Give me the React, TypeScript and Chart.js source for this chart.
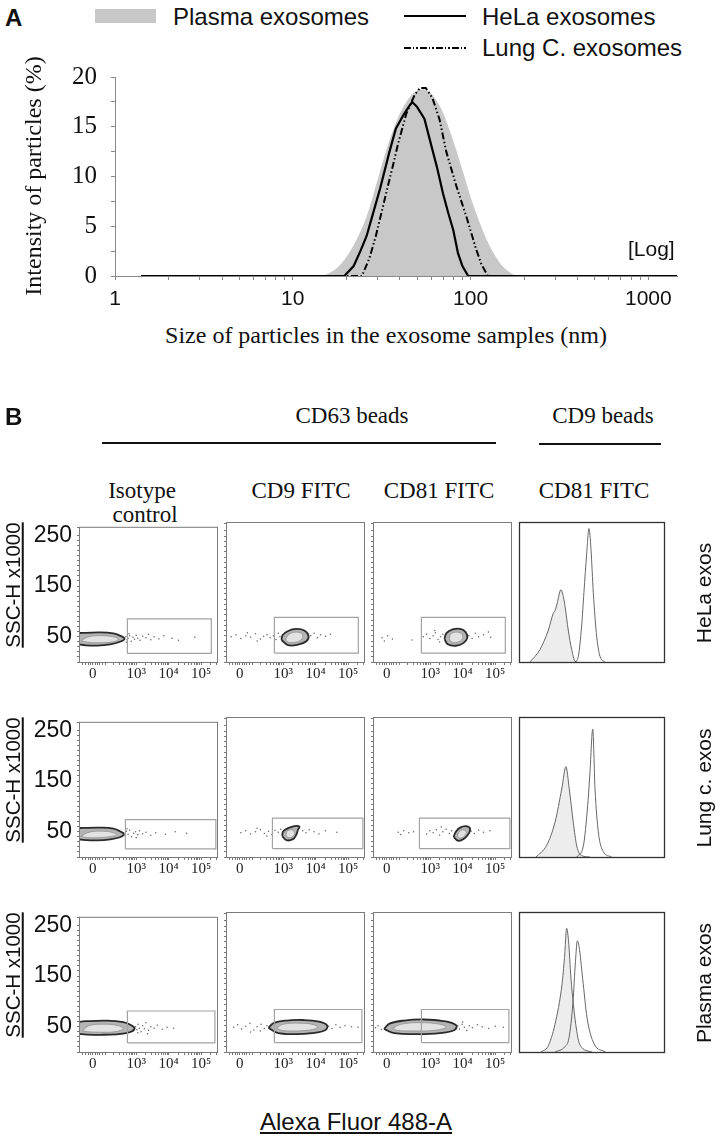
import React, { useEffect, useRef } from 'react';
import { Chart, registerables } from 'chart.js';

Chart.register(...registerables);

const SANS = "'Liberation Sans', Arial, sans-serif";
const SERIF = "'Liberation Serif', 'Times New Roman', serif";

// ---------------- Panel A : size distribution (log x) ----------------
const sizeMajorTicks = [1, 10, 100, 1000];
const sizeMinorFactors = [2, 3, 4, 5, 6, 7, 8, 9];
const intensityLabelTicks = [0, 5, 10, 15, 20];

const plasmaSize = [15, 17, 19, 22, 26, 30, 35, 40, 45, 50, 55, 60, 68, 78, 90, 100, 115, 130, 150, 170, 180];
const plasmaIntensity = [0, 0.5, 1.3, 3.0, 5.8, 9.5, 13.5, 16.2, 17.8, 18.6, 18.7, 18.3, 16.8, 14.0, 10.5, 7.8, 4.8, 2.7, 1.0, 0.2, 0];

const helaSize = [1.4, 19.5, 22, 24, 26, 28.5, 31, 35, 38, 42, 44.5, 47, 50, 55, 61, 65, 70, 75, 80, 85, 90, 97, 1450];
const helaIntensity = [0, 0, 1.0, 2.5, 4.0, 6.5, 8.8, 12.5, 14.8, 16.2, 16.9, 17.5, 17.0, 15.8, 12.7, 10.8, 8.3, 6.3, 4.6, 2.3, 1.0, 0, 0];

const lungSize = [1.4, 24.5, 27, 29.3, 32, 34, 36.5, 39, 43.5, 48.5, 52, 56, 61, 67, 73, 83, 95, 107, 115, 125, 1450];
const lungIntensity = [0, 0, 1.8, 4.0, 6.8, 8.8, 11.0, 13.2, 16.3, 18.2, 18.9, 18.9, 17.9, 15.7, 12.5, 9.1, 5.9, 2.8, 1.2, 0, 0];

// ---------------- Panel B : flow cytometry ----------------
const flowXMin = 1.273;
const flowXMax = 5.485;
const flowXMajor = [1.667, 3, 4, 5];
const flowXLabels = ['0', '10³', '10⁴', '10⁵'];
const flowXMinor = [1.36, 1.45, 1.53, 1.6, 1.74, 1.8, 1.87, 1.95, 2.05, 2.3, 2.48, 2.6, 2.7, 2.78, 2.85, 2.9, 2.95,
  3.3, 3.48, 3.6, 3.7, 3.78, 3.85, 3.9, 3.95, 4.3, 4.48, 4.6, 4.7, 4.78, 4.85, 4.9, 4.95, 5.3, 5.48];
const flowYMax = 265;
const flowYLabels = [50, 150, 250];

const gateXRow1 = [2.73, 5.31];
const gateYRow1 = [17, 85];
const gateXRow2 = [2.67, 5.45];
const gateYRow2 = [16, 74];
const gateXRow3 = [2.73, 5.42];
const gateYRow3 = [18, 81];

// HeLa exos
const r1c1Outline = [[1.2, 35], [1.2, 55], [1.45, 57.5], [1.9, 58.5], [2.3, 56.5], [2.5, 52], [2.64, 46], [2.5, 40], [2.2, 35], [1.8, 32.5], [1.45, 33], [1.2, 35]];
const r1c1Core = [[1.3, 42], [1.55, 50], [2.0, 52], [2.35, 49], [2.45, 45], [2.3, 40], [1.9, 38], [1.5, 39], [1.3, 42]];
const r1c1Dots = [[2.68, 50], [2.72, 44], [2.75, 47], [2.8, 52], [2.85, 41], [2.9, 49], [2.95, 45], [3.0, 53], [3.05, 47], [3.12, 43], [3.2, 51], [3.3, 48], [3.38, 55], [3.45, 44], [3.55, 50], [3.7, 46], [3.85, 52], [4.1, 47], [4.3, 43], [4.8, 49], [2.7, 39], [2.78, 56]];

const r1c2Outline = [[2.95, 42], [2.98, 51], [3.15, 59], [3.4, 63], [3.65, 60], [3.78, 50], [3.72, 40], [3.45, 33], [3.15, 32], [2.95, 42]];
const r1c2Core = [[3.08, 44], [3.18, 53], [3.42, 57], [3.6, 52], [3.55, 42], [3.3, 37], [3.12, 39], [3.08, 44]];
const r1c2Dots = [[1.4, 48], [1.55, 52], [1.7, 45], [1.85, 50], [2.0, 47], [2.15, 54], [2.3, 44], [2.4, 49], [2.5, 52], [2.6, 46], [2.7, 50], [2.78, 43], [2.85, 55], [2.9, 48], [3.85, 50], [3.95, 55], [4.05, 46], [4.15, 52], [4.3, 49], [4.45, 53], [2.2, 40], [1.9, 56]];

const r1c3Outline = [[3.44, 44], [3.5, 55], [3.69, 62], [3.92, 63], [4.09, 57], [4.14, 46], [4.02, 36], [3.79, 31], [3.54, 34], [3.44, 44]];
const r1c3Core = [[3.59, 45], [3.64, 54], [3.84, 57], [3.99, 52], [3.97, 42], [3.79, 37], [3.64, 39], [3.59, 45]];
const r1c3Dots = [[1.52, 46], [1.59, 40], [1.69, 50], [1.84, 44], [2.44, 42], [2.79, 48], [2.89, 53], [2.99, 45], [3.09, 50], [3.16, 56], [3.24, 43], [3.32, 48], [3.39, 53], [4.19, 50], [4.29, 45], [4.39, 55], [4.49, 48], [4.64, 52], [4.79, 57], [4.86, 47], [3.29, 38], [3.14, 60]];

// Lung c. exos
const r2c1Outline = [[1.2, 35], [1.2, 55], [1.5, 57.5], [1.9, 58], [2.3, 56], [2.5, 51], [2.62, 45], [2.5, 39], [2.2, 35], [1.8, 33], [1.45, 33.5], [1.2, 35]];
const r2c1Core = [[1.3, 41], [1.55, 49], [2.0, 51], [2.3, 48], [2.4, 44], [2.2, 40], [1.8, 38], [1.45, 38.5], [1.3, 41]];
const r2c1Dots = [[2.62, 48], [2.66, 42], [2.7, 51], [2.75, 45], [2.8, 53], [2.86, 40], [2.92, 47], [2.98, 50], [3.05, 44], [3.1, 52], [3.2, 46], [3.3, 49], [3.45, 43], [3.6, 48], [3.9, 45], [4.2, 50], [4.55, 47], [2.72, 56], [3.0, 38]];

const r2c2Outline = [[2.97, 40], [3.0, 49], [3.15, 55], [3.35, 59], [3.5, 58], [3.45, 51], [3.4, 42], [3.3, 34], [3.1, 32], [2.97, 40]];
const r2c2Core = [[3.08, 42], [3.12, 49], [3.25, 52], [3.35, 47], [3.3, 39], [3.15, 37], [3.08, 42]];
const r2c2Dots = [[1.7, 46], [1.85, 50], [2.0, 44], [2.15, 48], [2.3, 52], [2.42, 45], [2.55, 49], [2.65, 43], [2.75, 51], [2.85, 47], [2.92, 53], [3.6, 50], [3.7, 46], [3.8, 52], [3.95, 48], [4.1, 44], [4.3, 50], [4.65, 47], [2.5, 40], [2.2, 55]];

const r2c3Outline = [[3.72, 38], [3.79, 48], [3.92, 56], [4.09, 59], [4.22, 55], [4.19, 45], [4.04, 35], [3.86, 31], [3.72, 38]];
const r2c3Core = [[3.84, 40], [3.89, 48], [4.02, 52], [4.11, 47], [4.04, 39], [3.91, 36], [3.84, 40]];
const r2c3Dots = [[2.02, 47], [2.09, 43], [2.19, 50], [2.34, 46], [2.49, 48], [2.89, 44], [2.99, 50], [3.09, 46], [3.19, 52], [3.29, 42], [3.39, 48], [3.49, 53], [3.59, 45], [3.66, 50], [4.26, 49], [4.36, 45], [4.49, 51], [4.64, 47], [4.84, 50], [3.34, 57]];

// Plasma exos
const r3c1Outline = [[1.2, 36], [1.2, 57], [1.6, 61], [2.1, 62], [2.6, 59], [2.85, 53], [2.95, 46], [2.8, 39], [2.4, 35], [1.9, 34], [1.5, 34.5], [1.2, 36]];
const r3c1Core = [[1.35, 42], [1.55, 52], [2.0, 55], [2.45, 52], [2.6, 46], [2.35, 40], [1.9, 39], [1.5, 40], [1.35, 42]];
const r3c1Dots = [[2.98, 50], [3.02, 44], [3.06, 55], [3.1, 47], [3.15, 40], [3.2, 52], [3.25, 46], [3.3, 58], [3.38, 43], [3.45, 50], [3.55, 47], [3.65, 53], [3.8, 45], [3.95, 49], [4.15, 47], [3.05, 38], [3.35, 36]];

const r3c2Outline = [[2.55, 46], [2.7, 55], [3.1, 60], [3.6, 61], [4.1, 58], [4.35, 51], [4.3, 42], [3.9, 36], [3.3, 34], [2.8, 37], [2.55, 46]];
const r3c2Core = [[2.8, 46], [3.0, 53], [3.5, 55], [3.95, 52], [4.05, 46], [3.7, 41], [3.2, 40], [2.9, 42], [2.8, 46]];
const r3c2Dots = [[1.48, 47], [1.6, 52], [1.72, 44], [1.85, 49], [1.98, 55], [2.1, 42], [2.2, 48], [2.32, 53], [2.42, 45], [2.5, 50], [4.4, 49], [4.5, 45], [4.62, 52], [4.75, 47], [4.9, 50], [5.1, 48], [5.3, 47], [2.0, 38], [2.3, 40]];

const r3c3Outline = [[1.58, 44], [1.75, 54], [2.2, 60], [2.8, 62], [3.4, 59], [3.8, 51], [3.75, 42], [3.3, 36], [2.6, 34], [1.9, 36], [1.58, 44]];
const r3c3Core = [[1.85, 45], [2.1, 53], [2.7, 56], [3.3, 53], [3.5, 47], [3.1, 41], [2.5, 40], [2.0, 41], [1.85, 45]];
const r3c3Dots = [[1.32, 46], [1.4, 50], [1.5, 43], [3.85, 50], [3.9, 44], [3.98, 53], [4.05, 47], [4.12, 41], [4.2, 50], [4.3, 46], [4.45, 52], [4.6, 48], [4.8, 45], [5.0, 49], [5.25, 47], [4.0, 57]];

// CD9 beads / CD81 FITC histograms (x: % of axis, y: % of max)
const hist1ControlX = [6.9, 13.9, 19.7, 23.1, 24.3, 25.5, 27.8, 28.5, 30.1, 31.3, 33.5, 35.9, 38.2, 40];
const hist1ControlY = [0, 9, 23, 35, 37, 41, 51, 52, 47, 40, 23, 9, 0.5, 0];
const hist1StainedX = [38.2, 40.5, 42.8, 44.4, 46.3, 47.9, 49.3, 50.9, 53.3, 55.6, 59];
const hist1StainedY = [0, 4, 26, 50, 78, 96, 81, 50, 18, 4, 0];

const hist2ControlX = [11.1, 18.5, 24.3, 29, 31.9, 34.2, 37, 39.4, 42.8, 48.6];
const hist2ControlY = [0, 8.4, 25, 49, 65, 49, 25, 8, 1, 0];
const hist2StainedX = [39.4, 44, 47, 48.6, 50.5, 52.1, 54.4, 57.8, 63.7];
const hist2StainedY = [0, 8, 37, 61, 92, 49, 18, 4, 0];

const hist3ControlX = [14.6, 19.4, 24.3, 29.2, 30.9, 32.4, 33.7, 35.4, 38.7, 41.7, 50];
const hist3ControlY = [0, 4, 20, 49, 68, 89, 80, 53, 20, 5, 0];
const hist3StainedX = [24.3, 31.3, 34, 36.8, 38.5, 39.8, 41, 43.5, 46.5, 51.4, 59.4];
const hist3StainedY = [0, 4, 10, 36, 65, 80, 76, 53, 25, 6, 0];

// ---------------- layout ----------------
const rowTops = [523, 718, 913];
const colLefts = [80, 227, 374];
const PANEL = 139;
const histLeft = 520;
const histWidth = 144;

const framePlugin: any = {
  id: 'frame',
  afterDraw(chart: any, _args: any, opts: any) {
    if (!opts || !opts.color) return;
    const { left, top, right, bottom } = chart.chartArea;
    const ctx = chart.ctx;
    ctx.save();
    ctx.strokeStyle = opts.color;
    ctx.lineWidth = opts.width || 1;
    ctx.strokeRect(left - 0.5, top - 0.5, right - left + 1, bottom - top + 1);
    ctx.restore();
  },
};

const toPts = (a: number[][]) => a.map(([x, y]) => ({ x, y }));
const zipPts = (xs: number[], ys: number[]) => xs.map((x, i) => ({ x, y: ys[i] }));

function panelAConfig(): any {
  const allTicks: number[] = [];
  sizeMajorTicks.forEach((d) => {
    allTicks.push(d);
    if (d < 1000) sizeMinorFactors.forEach((f) => allTicks.push(d * f));
  });
  return {
    type: 'scatter',
    data: {
      datasets: [
        { label: 'HeLa exosomes', data: zipPts(helaSize, helaIntensity), showLine: true, borderColor: '#000', borderWidth: 2.2, pointRadius: 0, fill: false, tension: 0 },
        { label: 'Lung C. exosomes', data: zipPts(lungSize, lungIntensity), showLine: true, borderColor: '#000', borderWidth: 2, borderDash: [7, 2.5, 1.5, 2.5, 1.5, 2.5], pointRadius: 0, fill: false, tension: 0 },
        { label: 'Plasma exosomes', data: zipPts(plasmaSize, plasmaIntensity), showLine: true, borderColor: '#c8c8c8', borderWidth: 1, backgroundColor: '#c8c8c8', fill: 'origin', tension: 0.3, pointRadius: 0 },
      ],
    },
    options: {
      responsive: false,
      animation: false,
      events: [],
      layout: { padding: { top: 16, right: 43, left: 0, bottom: 0 } },
      plugins: { legend: { display: false }, tooltip: { enabled: false } },
      scales: {
        x: {
          type: 'logarithmic', min: 1, max: 1450,
          afterFit: (s: any) => { s.height = 40; },
          afterBuildTicks: (s: any) => { s.ticks = allTicks.map((v) => ({ value: v })); },
          ticks: { autoSkip: false, maxRotation: 0, padding: 7, color: '#111', font: { family: SANS, size: 21 }, callback: (v: any) => (sizeMajorTicks.includes(v) ? String(v) : '') },
          grid: { drawOnChartArea: false, tickLength: 4, color: '#888' },
          border: { color: '#888', width: 1 },
        },
        y: {
          min: 0, max: 20,
          afterFit: (s: any) => { s.width = 115; },
          ticks: { stepSize: 2.5, autoSkip: false, padding: 14, color: '#111', font: { family: SERIF, size: 25 }, callback: (v: any) => (intensityLabelTicks.includes(v) ? String(v) : '') },
          grid: { drawOnChartArea: false, tickLength: 4, color: '#888' },
          border: { color: '#888', width: 1 },
        },
      },
    },
  };
}

function flowConfig(outline: number[][], core: number[][], dots: number[][], gx: number[], gy: number[], showY: boolean): any {
  const gate = [
    { x: gx[0], y: gy[0] }, { x: gx[1], y: gy[0] }, { x: gx[1], y: gy[1] }, { x: gx[0], y: gy[1] }, { x: gx[0], y: gy[0] },
  ];
  const allTicks = [...flowXMajor, ...flowXMinor].sort((a, b) => a - b);
  return {
    type: 'scatter',
    data: {
      datasets: [
        { data: gate, showLine: true, borderColor: '#a3a3a3', borderWidth: 1.2, pointRadius: 0, fill: false, tension: 0 },
        { data: toPts(core), showLine: true, borderColor: '#9a9a9a', borderWidth: 1, backgroundColor: '#e2e2e2', fill: 'shape', tension: 0.4, pointRadius: 0 },
        { data: toPts(outline), showLine: true, borderColor: '#2a2a2a', borderWidth: 1.8, backgroundColor: '#b4b4b4', fill: 'shape', tension: 0.4, pointRadius: 0 },
        { data: toPts(dots), showLine: false, pointRadius: 0.75, backgroundColor: '#666', pointBackgroundColor: '#666', pointBorderWidth: 0, borderWidth: 0 },
      ],
    },
    plugins: [framePlugin],
    options: {
      responsive: false,
      animation: false,
      events: [],
      layout: { padding: { top: 14, right: 2, left: 0, bottom: 0 } },
      plugins: { legend: { display: false }, tooltip: { enabled: false }, frame: { color: '#7a7a7a', width: 1 } },
      scales: {
        x: {
          type: 'linear', min: flowXMin, max: flowXMax,
          afterFit: (s: any) => { s.height = 28; },
          afterBuildTicks: (s: any) => { s.ticks = allTicks.map((v) => ({ value: v })); },
          ticks: {
            autoSkip: false, maxRotation: 0, padding: 0, color: '#222', font: { family: SERIF, size: 15 },
            callback: (v: any) => { const i = flowXMajor.indexOf(v); return i >= 0 ? flowXLabels[i] : ''; },
          },
          grid: { drawOnChartArea: false, tickLength: 3, color: '#777' },
          border: { display: false },
        },
        y: {
          min: 0, max: flowYMax,
          afterFit: (s: any) => { s.width = showY ? 80 : 8; },
          ticks: {
            display: showY, stepSize: 10, autoSkip: false, padding: 5, color: '#111', font: { family: SANS, size: 23 },
            callback: (v: any) => (flowYLabels.includes(v) ? String(v) : ''),
          },
          grid: { drawOnChartArea: false, tickLength: 3, color: '#777' },
          border: { display: false },
        },
      },
    },
  };
}

function histConfig(cx: number[], cy: number[], sx: number[], sy: number[]): any {
  return {
    type: 'scatter',
    data: {
      datasets: [
        { data: zipPts(sx, sy), showLine: true, borderColor: '#666', borderWidth: 1, fill: false, cubicInterpolationMode: 'monotone', pointRadius: 0 },
        { data: zipPts(cx, cy), showLine: true, borderColor: '#666', borderWidth: 1, backgroundColor: '#ededed', fill: 'origin', cubicInterpolationMode: 'monotone', pointRadius: 0 },
      ],
    },
    plugins: [framePlugin],
    options: {
      responsive: false,
      animation: false,
      events: [],
      layout: { padding: 2 },
      plugins: { legend: { display: false }, tooltip: { enabled: false }, frame: { color: '#333', width: 1.3 } },
      scales: {
        x: { display: false, type: 'linear', min: 0, max: 100 },
        y: { display: false, min: 0, max: 100 },
      },
    },
  };
}

function ChartBox({ left, top, width, height, make }: { left: number; top: number; width: number; height: number; make: () => any }) {
  const ref = useRef<HTMLCanvasElement>(null);
  useEffect(() => {
    const chart = new Chart(ref.current as HTMLCanvasElement, make());
    return () => chart.destroy();
  }, []);
  return <canvas ref={ref} width={width} height={height} style={{ position: 'absolute', left, top, width, height }} />;
}

function Label({ x, y, children, size, family = SANS, weight = 400, anchor = 'middle', rotate = false, underline = false }: any) {
  const tx = anchor === 'middle' ? '-50%' : anchor === 'end' ? '-100%' : '0';
  return (
    <div
      style={{
        position: 'absolute', left: x, top: y, whiteSpace: 'nowrap', lineHeight: 1,
        fontSize: size, fontFamily: family, fontWeight: weight, color: '#111',
        textDecoration: underline ? 'underline' : 'none',
        transform: `translate(${tx}, -50%)${rotate ? ' rotate(-90deg)' : ''}`,
        transformOrigin: rotate ? 'center center' : undefined,
      }}
    >
      {children}
    </div>
  );
}

const flowPanels = [
  { row: 0, col: 0, outline: r1c1Outline, core: r1c1Core, dots: r1c1Dots },
  { row: 0, col: 1, outline: r1c2Outline, core: r1c2Core, dots: r1c2Dots },
  { row: 0, col: 2, outline: r1c3Outline, core: r1c3Core, dots: r1c3Dots },
  { row: 1, col: 0, outline: r2c1Outline, core: r2c1Core, dots: r2c1Dots },
  { row: 1, col: 1, outline: r2c2Outline, core: r2c2Core, dots: r2c2Dots },
  { row: 1, col: 2, outline: r2c3Outline, core: r2c3Core, dots: r2c3Dots },
  { row: 2, col: 0, outline: r3c1Outline, core: r3c1Core, dots: r3c1Dots },
  { row: 2, col: 1, outline: r3c2Outline, core: r3c2Core, dots: r3c2Dots },
  { row: 2, col: 2, outline: r3c3Outline, core: r3c3Core, dots: r3c3Dots },
];
const gateXs = [gateXRow1, gateXRow2, gateXRow3];
const gateYs = [gateYRow1, gateYRow2, gateYRow3];
const histPanels = [
  { cx: hist1ControlX, cy: hist1ControlY, sx: hist1StainedX, sy: hist1StainedY },
  { cx: hist2ControlX, cy: hist2ControlY, sx: hist2StainedX, sy: hist2StainedY },
  { cx: hist3ControlX, cy: hist3ControlY, sx: hist3StainedX, sy: hist3StainedY },
];
const rowNames = ['HeLa exos', 'Lung c. exos', 'Plasma exos'];

export default function App() {
  return (
    <div style={{ position: 'relative', width: 720, height: 1138, background: '#fff', overflow: 'hidden' }}>
      <style>{`body{margin:0;background:#fff}`}</style>

      {/* Panel A */}
      <Label x={5} y={18} size={24} weight={700} anchor="start">A</Label>
      <div style={{ position: 'absolute', left: 95, top: 9, width: 61, height: 14, background: '#c8c8c8' }} />
      <Label x={173} y={17} size={24} anchor="start">Plasma exosomes</Label>
      <div style={{ position: 'absolute', left: 404, top: 15, width: 62, height: 2, background: '#000' }} />
      <Label x={482} y={17} size={24} anchor="start">HeLa exosomes</Label>
      <div
        style={{
          position: 'absolute', left: 404, top: 47, width: 62, height: 2,
          background: 'repeating-linear-gradient(to right, #000 0 7px, transparent 7px 9px, #000 9px 10.5px, transparent 10.5px 12.5px, #000 12.5px 14px, transparent 14px 16px)',
        }}
      />
      <Label x={482} y={48} size={24} anchor="start">Lung C. exosomes</Label>
      <ChartBox left={0} top={48} width={720} height={268} make={panelAConfig} />
      <Label x={33} y={176} size={24} family={SERIF} rotate>Intensity of particles (%)</Label>
      <Label x={628} y={248} size={21} anchor="start">[Log]</Label>
      <Label x={386} y={335} size={24} family={SERIF}>Size of particles in the exosome samples (nm)</Label>

      {/* Panel B headers */}
      <Label x={5} y={417} size={24} weight={700} anchor="start">B</Label>
      <Label x={352} y={415} size={23} family={SERIF}>CD63 beads</Label>
      <div style={{ position: 'absolute', left: 102, top: 442, width: 394, height: 2, background: '#111' }} />
      <Label x={603} y={415} size={23} family={SERIF}>CD9 beads</Label>
      <div style={{ position: 'absolute', left: 539, top: 443, width: 122, height: 2, background: '#111' }} />
      <Label x={142} y={490} size={23} family={SERIF}>Isotype</Label>
      <Label x={145} y={514} size={23} family={SERIF}>control</Label>
      <Label x={301} y={490} size={23} family={SERIF}>CD9 FITC</Label>
      <Label x={439} y={490} size={23} family={SERIF}>CD81 FITC</Label>
      <Label x={594} y={490} size={23} family={SERIF}>CD81 FITC</Label>

      {flowPanels.map((p) => {
        const showY = p.col === 0;
        const left = showY ? 0 : colLefts[p.col] - 8;
        const width = showY ? 80 + PANEL + 2 : 8 + PANEL + 2;
        return (
          <ChartBox
            key={`f${p.row}${p.col}`}
            left={left}
            top={rowTops[p.row] - 14}
            width={width}
            height={14 + PANEL + 28}
            make={() => flowConfig(p.outline, p.core, p.dots, gateXs[p.row], gateYs[p.row], showY)}
          />
        );
      })}

      {histPanels.map((h, i) => (
        <ChartBox
          key={`h${i}`}
          left={histLeft - 2}
          top={rowTops[i] - 2}
          width={histWidth + 4}
          height={PANEL + 4}
          make={() => histConfig(h.cx, h.cy, h.sx, h.sy)}
        />
      ))}

      {rowTops.map((t, i) => (
        <React.Fragment key={`r${i}`}>
          <Label x={13} y={t + 62} size={20.5} rotate underline>SSC-H x1000</Label>
          <Label x={703} y={t + 70} size={21} rotate>{rowNames[i]}</Label>
        </React.Fragment>
      ))}

      <Label x={356} y={1122} size={24} underline>Alexa Fluor 488-A</Label>
    </div>
  );
}
